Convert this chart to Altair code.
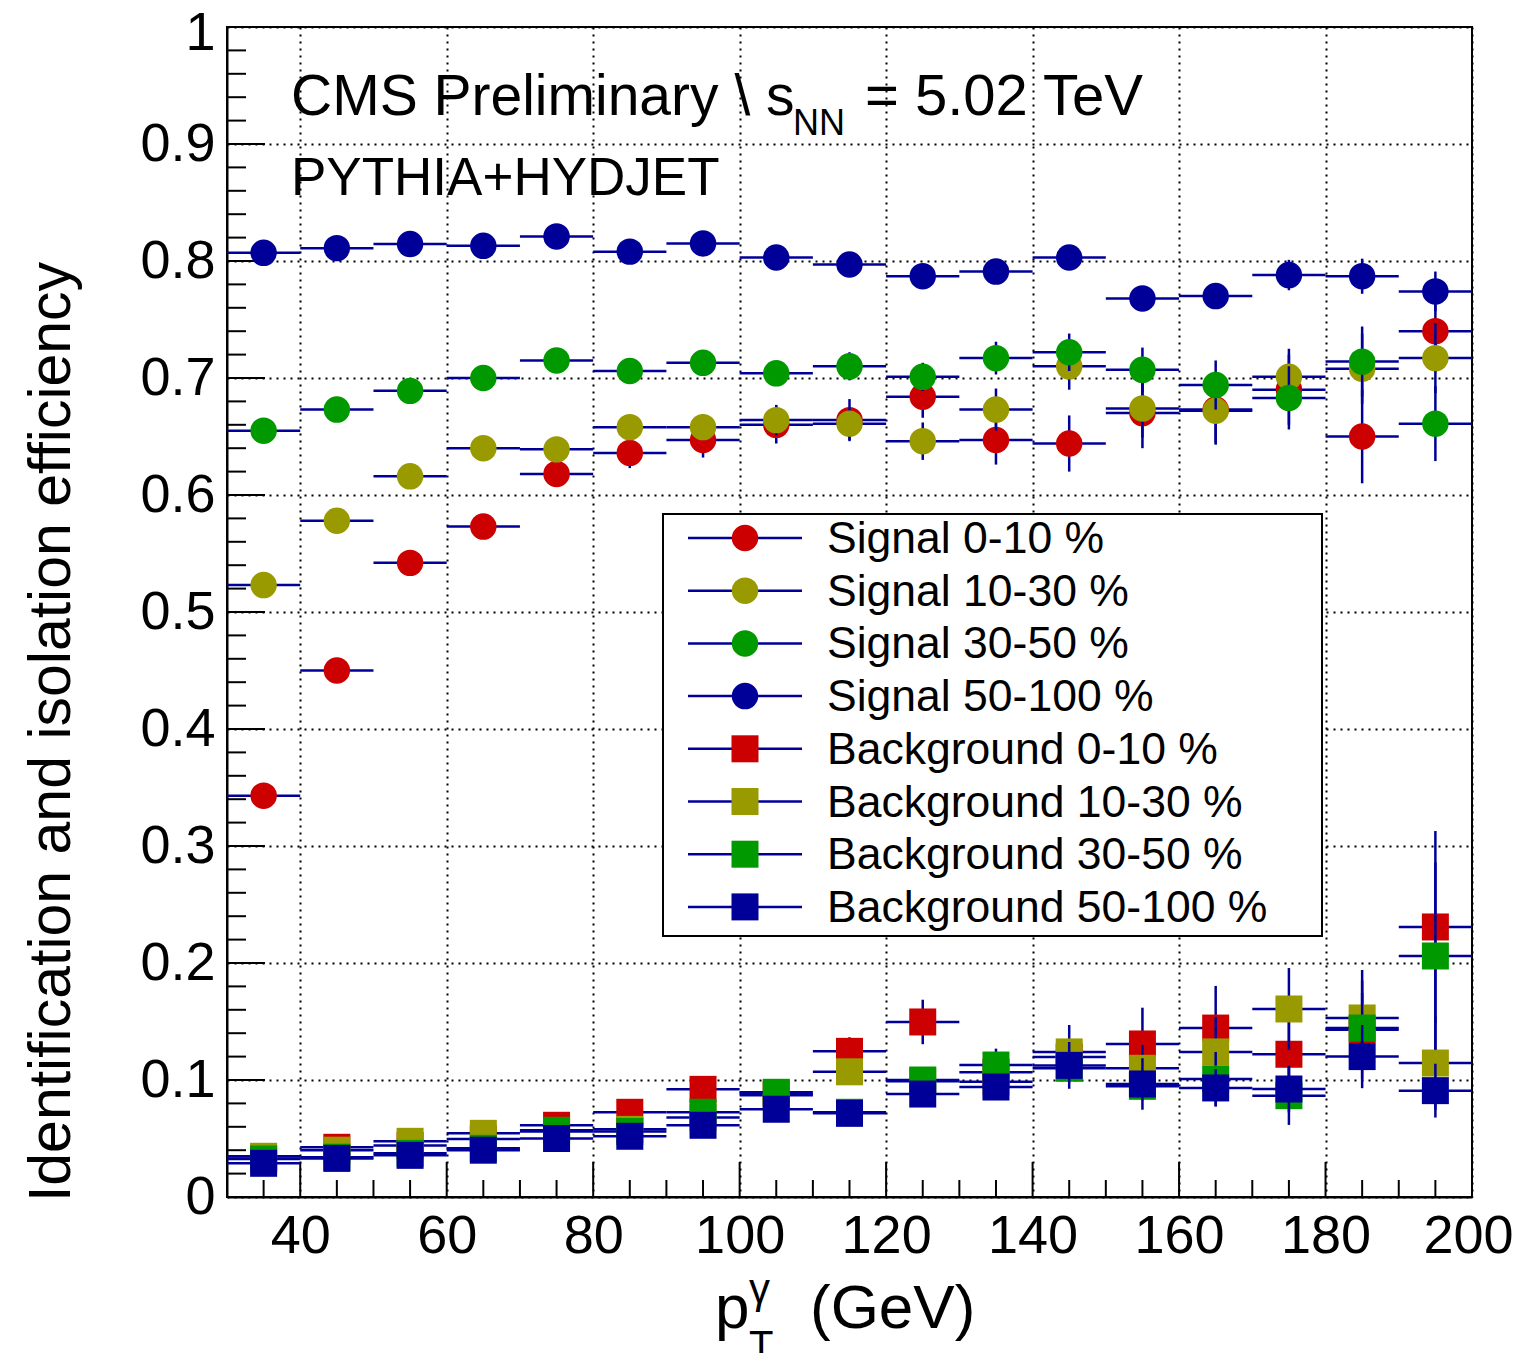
import altair as alt
import pandas as pd
import numpy as np

# ---------------- data ----------------
pt_centers = [35, 45, 55, 65, 75, 85, 95, 105, 115, 125, 135, 145, 155, 165, 175, 185, 195]
bin_half_width = 5

sig_0_10 = [0.343, 0.450, 0.542, 0.573, 0.618, 0.636, 0.647, 0.660, 0.664, 0.684, 0.647, 0.644, 0.670, 0.673, 0.690, 0.650, 0.740]
sig_0_10_err = [0.004, 0.005, 0.006, 0.007, 0.009, 0.013, 0.015, 0.016, 0.018, 0.018, 0.021, 0.024, 0.030, 0.030, 0.030, 0.040, 0.035]

sig_10_30 = [0.523, 0.578, 0.616, 0.640, 0.639, 0.658, 0.658, 0.664, 0.661, 0.646, 0.673, 0.710, 0.674, 0.672, 0.701, 0.708, 0.717]
sig_10_30_err = [0.004, 0.005, 0.006, 0.007, 0.008, 0.010, 0.011, 0.013, 0.014, 0.016, 0.018, 0.020, 0.025, 0.028, 0.024, 0.030, 0.030]

sig_30_50 = [0.655, 0.673, 0.689, 0.700, 0.715, 0.706, 0.713, 0.704, 0.710, 0.701, 0.717, 0.722, 0.707, 0.694, 0.683, 0.714, 0.661]
sig_30_50_err = [0.003, 0.004, 0.005, 0.006, 0.006, 0.007, 0.008, 0.009, 0.012, 0.012, 0.014, 0.016, 0.019, 0.021, 0.027, 0.030, 0.032]

sig_50_100 = [0.807, 0.811, 0.8145, 0.813, 0.821, 0.808, 0.815, 0.803, 0.797, 0.787, 0.791, 0.803, 0.768, 0.770, 0.788, 0.787, 0.774]
sig_50_100_err = [0.002, 0.003, 0.003, 0.004, 0.004, 0.005, 0.005, 0.006, 0.007, 0.008, 0.009, 0.010, 0.010, 0.011, 0.013, 0.015, 0.017]

bkg_0_10 = [0.033, 0.0425, 0.044, 0.0496, 0.0613, 0.0724, 0.092, 0.088, 0.1245, 0.1496, 0.1066, 0.1197, 0.1308, 0.1444, 0.122, 0.143, 0.2308]
bkg_0_10_err = [0.002, 0.003, 0.003, 0.004, 0.004, 0.005, 0.007, 0.008, 0.012, 0.019, 0.012, 0.015, 0.031, 0.036, 0.030, 0.042, 0.082]

bkg_10_30 = [0.0348, 0.040, 0.0476, 0.0544, 0.056, 0.0578, 0.068, 0.087, 0.107, 0.099, 0.0986, 0.124, 0.110, 0.124, 0.1607, 0.153, 0.1145]
bkg_10_30_err = [0.002, 0.003, 0.003, 0.004, 0.004, 0.005, 0.006, 0.008, 0.010, 0.010, 0.011, 0.023, 0.020, 0.030, 0.035, 0.041, 0.040]

bkg_30_50 = [0.0325, 0.034, 0.0373, 0.0416, 0.057, 0.056, 0.0724, 0.0895, 0.0724, 0.100, 0.1128, 0.110, 0.0946, 0.1009, 0.0866, 0.1444, 0.206]
bkg_30_50_err = [0.002, 0.002, 0.003, 0.003, 0.004, 0.004, 0.006, 0.007, 0.007, 0.009, 0.014, 0.012, 0.012, 0.023, 0.025, 0.030, 0.080]

bkg_50_100 = [0.0288, 0.033, 0.0356, 0.040, 0.050, 0.0519, 0.0613, 0.075, 0.0715, 0.088, 0.094, 0.1125, 0.0966, 0.0932, 0.0923, 0.120, 0.0909]
bkg_50_100_err = [0.001, 0.002, 0.002, 0.002, 0.003, 0.003, 0.004, 0.005, 0.005, 0.008, 0.007, 0.020, 0.022, 0.016, 0.020, 0.027, 0.023]

series_names = ["Signal 0-10 %", "Signal 10-30 %", "Signal 30-50 %", "Signal 50-100 %",
                "Background 0-10 %", "Background 10-30 %", "Background 30-50 %", "Background 50-100 %"]
series_values = [sig_0_10, sig_10_30, sig_30_50, sig_50_100, bkg_0_10, bkg_10_30, bkg_30_50, bkg_50_100]
series_errors = [sig_0_10_err, sig_10_30_err, sig_30_50_err, sig_50_100_err,
                 bkg_0_10_err, bkg_10_30_err, bkg_30_50_err, bkg_50_100_err]
series_colors = ["#CC0000", "#999900", "#009900", "#000099"] * 2
series_shapes = ["circle"] * 4 + ["square"] * 4

x_label_values = [40, 60, 80, 100, 120, 140, 160, 180, 200]
y_label_values = [0, 0.1, 0.2, 0.3, 0.4, 0.5, 0.6, 0.7, 0.8, 0.9, 1]
x_minor_ticks = [v for v in range(35, 200, 5) if v % 20 != 0]
y_major_ticks = [0.1, 0.2, 0.3, 0.4, 0.5, 0.6, 0.7, 0.8, 0.9]
y_minor_ticks = [round(v, 2) for v in np.arange(0.02, 1.0, 0.02) if round(v * 50) % 5 != 0]

# ---------------- build table ----------------
rows = []
for name, vals, errs in zip(series_names, series_values, series_errors):
    for x, v, e in zip(pt_centers, vals, errs):
        rows.append(dict(series=name, x=x, xlo=x - bin_half_width, xhi=x + bin_half_width,
                         y=v, ylo=v - e, yhi=v + e))
df = pd.DataFrame(rows)

W, H = 1245, 1170
FONT = "Liberation Sans"
ERR = "#000099"

xscale = alt.Scale(domain=[30, 200], nice=False, zero=False)
yscale = alt.Scale(domain=[0, 1], nice=False, zero=False)

xaxis = alt.Axis(values=x_label_values, title=None, ticks=False, labelFontSize=54, labelFont=FONT,
                 labelColor="black", labelPadding=12, labelFlush=False, labelOverlap=False,
                 labelOffset={"condition": {"test": "datum.value == 200", "value": -4}, "value": 0},
                 domainColor="black", domainWidth=2, grid=True, gridColor="black",
                 gridDash=[2, 5], gridWidth=2, gridOpacity=1)
yaxis = alt.Axis(values=y_label_values, title=None, ticks=False, labelFontSize=54, labelFont=FONT,
                 labelColor="black", labelPadding=12, labelFlush=False, labelOverlap=False,
                 labelOffset={"condition": {"test": "datum.value == 1", "value": 6}, "value": 0},
                 format="~g", domainColor="black", domainWidth=2, grid=True, gridColor="black",
                 gridDash=[2, 5], gridWidth=2, gridOpacity=1)

base = alt.Chart(df)
layers = []

# inward ticks
xt_major = pd.DataFrame({"tx": x_label_values})
xt_minor = pd.DataFrame({"tx": x_minor_ticks})
yt_major = pd.DataFrame({"ty": y_major_ticks})
yt_minor = pd.DataFrame({"ty": y_minor_ticks})

layers.append(alt.Chart(xt_major).mark_rule(color="black", strokeWidth=2).encode(
    x=alt.X("tx:Q", scale=xscale, axis=xaxis), y=alt.value(H), y2=alt.value(H - 35)))
layers.append(alt.Chart(xt_minor).mark_rule(color="black", strokeWidth=2).encode(
    x=alt.X("tx:Q", scale=xscale, axis=xaxis), y=alt.value(H), y2=alt.value(H - 17)))
layers.append(alt.Chart(yt_major).mark_rule(color="black", strokeWidth=2).encode(
    y=alt.Y("ty:Q", scale=yscale, axis=yaxis), x=alt.value(0), x2=alt.value(38)))
layers.append(alt.Chart(yt_minor).mark_rule(color="black", strokeWidth=2).encode(
    y=alt.Y("ty:Q", scale=yscale, axis=yaxis), x=alt.value(0), x2=alt.value(19)))

# data series: error bars then markers, in ROOT drawing order
for name, color, shape in zip(series_names, series_colors, series_shapes):
    sub = base.transform_filter(alt.datum.series == name)
    layers.append(sub.mark_rule(color=ERR, strokeWidth=2.5).encode(
        x=alt.X("xlo:Q", scale=xscale, axis=xaxis), x2="xhi:Q",
        y=alt.Y("y:Q", scale=yscale, axis=yaxis)))
    layers.append(sub.mark_rule(color=ERR, strokeWidth=2.5).encode(
        x=alt.X("x:Q", scale=xscale, axis=xaxis),
        y=alt.Y("ylo:Q", scale=yscale, axis=yaxis), y2="yhi:Q"))
    layers.append(sub.mark_point(filled=True, shape=shape, size=700 if shape == "circle" else 729,
                                 color=color, opacity=1, strokeWidth=0).encode(
        x=alt.X("x:Q", scale=xscale, axis=xaxis),
        y=alt.Y("y:Q", scale=yscale, axis=yaxis)))


def text_layer(label, x, y, size, align="left", baseline="alphabetic", angle=0):
    return alt.Chart(pd.DataFrame({"t": [label]})).mark_text(
        align=align, baseline=baseline, font=FONT, fontSize=size, color="black", angle=angle
    ).encode(x=alt.value(x), y=alt.value(y), text="t:N")


# legend box
layers.append(alt.Chart(pd.DataFrame({"b": [0]})).mark_rect(
    fill="white", stroke="black", strokeWidth=2).encode(
    x=alt.value(436), x2=alt.value(1095), y=alt.value(487), y2=alt.value(909)))
row0, drow = 511, 52.7
for i, (name, color, shape) in enumerate(zip(series_names, series_colors, series_shapes)):
    cy = row0 + drow * i
    one = alt.Chart(pd.DataFrame({"label": [name]}))
    layers.append(one.mark_rule(color=ERR, strokeWidth=2.5).encode(
        x=alt.value(461), x2=alt.value(575), y=alt.value(cy)))
    layers.append(one.mark_point(filled=True, shape=shape, size=700 if shape == "circle" else 729,
                                 color=color, opacity=1, strokeWidth=0).encode(
        x=alt.value(518), y=alt.value(cy)))
    layers.append(one.mark_text(align="left", baseline="alphabetic", font=FONT, fontSize=44.5,
                                color="black").encode(
        x=alt.value(600), y=alt.value(cy + 15), text="label:N"))

# annotations
layers.append(text_layer("CMS Preliminary \\ s", 64, 88, 57))
layers.append(text_layer("NN", 566, 108, 36))
layers.append(text_layer("= 5.02 TeV", 638, 88, 58))
layers.append(text_layer("PYTHIA+HYDJET", 64, 168, 53))

# axis titles
layers.append(text_layer("Identification and isolation efficiency", -157, 705, 59,
                         align="center", angle=270))
layers.append(text_layer("p", 488, 1301, 62))
layers.append(text_layer("\u03b3", 522, 1276, 42))
layers.append(text_layer("T", 522, 1332, 40))
layers.append(text_layer("(GeV)", 583, 1301, 62))

chart = alt.layer(*layers).properties(
    width=W, height=H,
    autosize=alt.AutoSizeParams(type="none"),
    padding={"left": 219, "top": 19, "right": 42, "bottom": 156},
    background="white",
).configure_view(stroke="black", strokeWidth=2)

chart.save("out.html", embed_options={"renderer": "svg", "actions": False})
